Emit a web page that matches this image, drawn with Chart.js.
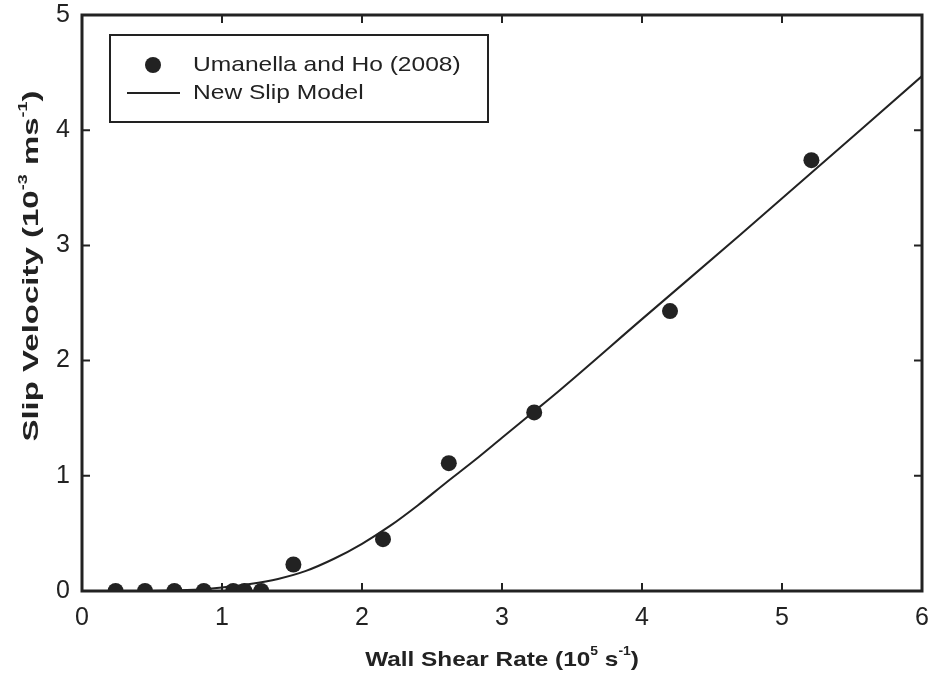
<!DOCTYPE html>
<html>
<head>
<meta charset="utf-8">
<script src="https://cdn.jsdelivr.net/npm/chart.js@4"></script>
<style>
  html, body { margin: 0; padding: 0; background: #fff; }
</style>
</head>
<body>
<canvas id="slip-chart" width="932" height="677"></canvas>
<script>
// Umanella and Ho (2008) measurements
const shearRate = [0.24, 0.45, 0.66, 0.87, 1.08, 1.16, 1.28, 1.51, 2.15, 2.62, 3.23, 4.20, 5.21];
const slipVel   = [0, 0, 0, 0, 0, 0, 0, 0.23, 0.45, 1.11, 1.55, 2.43, 3.74];

// new slip model curve
const modelRate = [0, 0.5, 0.8, 1.0, 1.2, 1.4, 1.6, 1.8, 2.0, 2.2, 2.4, 2.6, 2.8, 3.0, 3.2, 3.4, 4.0, 4.7, 6.0];
const modelVel  = [0, 0, 0.01, 0.03, 0.06, 0.105, 0.175, 0.28, 0.41, 0.565, 0.745, 0.94, 1.13, 1.33, 1.53, 1.73, 2.36, 3.09, 4.47];

const xTicks = [0, 1, 2, 3, 4, 5, 6];
const yTicks = [0, 1, 2, 3, 4, 5];

const seriesNames = ['Umanella and Ho (2008)', 'New Slip Model'];

// axis titles, split so the exponents can be drawn raised
const xTitle = [['Wall Shear Rate (10'], ['5', 1], [' s'], ['-1', 1], [')']];
const yTitle = [['Slip Velocity (10'], ['-3', 1], [' ms'], ['-1', 1], [')']];

const INK  = '#222';
const FONT = '"Liberation Sans", Arial, sans-serif';

// draws text pieces centred on the origin, exponents smaller and raised
function drawRich(ctx, parts, size, stretch) {
  const supSize = Math.round(size * 0.55);
  const fontOf = p => `bold ${p[1] ? supSize : size}px ${FONT}`;
  let w = 0;
  parts.forEach(p => { ctx.font = fontOf(p); w += ctx.measureText(p[0]).width; });
  ctx.scale(stretch, 1);
  ctx.textBaseline = 'middle';
  ctx.textAlign = 'left';
  let cx = -w / 2;
  parts.forEach(p => {
    ctx.font = fontOf(p);
    ctx.fillText(p[0], cx, p[1] ? -size * 0.38 : 0);
    cx += ctx.measureText(p[0]).width;
  });
}

const framePlugin = {
  id: 'frame',
  beforeDatasetsDraw(chart) {
    const { ctx, chartArea: a, scales: { x, y } } = chart;
    ctx.save();
    ctx.strokeStyle = INK;
    ctx.lineWidth = 3;
    ctx.strokeRect(a.left, a.top, a.right - a.left, a.bottom - a.top);
    ctx.lineWidth = 2;
    ctx.beginPath();
    xTicks.slice(1, -1).forEach(v => {
      const px = x.getPixelForValue(v);
      ctx.moveTo(px, a.bottom); ctx.lineTo(px, a.bottom - 8);
      ctx.moveTo(px, a.top);    ctx.lineTo(px, a.top + 8);
    });
    yTicks.slice(1, -1).forEach(v => {
      const py = y.getPixelForValue(v);
      ctx.moveTo(a.left, py);  ctx.lineTo(a.left + 8, py);
      ctx.moveTo(a.right, py); ctx.lineTo(a.right - 8, py);
    });
    ctx.stroke();
    ctx.restore();
  },
  afterDraw(chart) {
    const { ctx, chartArea: a } = chart;
    ctx.save();
    ctx.fillStyle = INK;
    ctx.translate((a.left + a.right) / 2, 660);
    drawRich(ctx, xTitle, 21, 1.16);
    ctx.restore();

    ctx.save();
    ctx.fillStyle = INK;
    ctx.translate(32, 266);
    ctx.rotate(-Math.PI / 2);
    drawRich(ctx, yTitle, 22, 1.5);
    ctx.restore();
  },
};

// boxed legend in the upper left of the plot
const legendPlugin = {
  id: 'boxLegend',
  afterDatasetsDraw(chart) {
    const { ctx, chartArea: a } = chart;
    const bx = a.left + 28, by = a.top + 20, bw = 378, bh = 87;
    ctx.save();
    ctx.fillStyle = '#fff';
    ctx.fillRect(bx, by, bw, bh);
    ctx.strokeStyle = INK;
    ctx.lineWidth = 2;
    ctx.strokeRect(bx, by, bw, bh);

    ctx.fillStyle = INK;
    ctx.beginPath();
    ctx.arc(bx + 43, by + 30, 8, 0, Math.PI * 2);
    ctx.fill();
    ctx.beginPath();
    ctx.moveTo(bx + 17, by + 58);
    ctx.lineTo(bx + 70, by + 58);
    ctx.stroke();

    ctx.font = `21px ${FONT}`;
    ctx.textBaseline = 'middle';
    [30, 58].forEach((dy, i) => {
      ctx.save();
      ctx.translate(bx + 83, by + dy);
      ctx.scale(1.17, 1);
      ctx.fillText(seriesNames[i], 0, 0);
      ctx.restore();
    });
    ctx.restore();
  },
};

new Chart(document.getElementById('slip-chart'), {
  type: 'scatter',
  data: {
    datasets: [
      {
        label: seriesNames[0],
        data: shearRate.map((v, i) => ({ x: v, y: slipVel[i] })),
        pointRadius: 8,
        pointBackgroundColor: INK,
        pointBorderWidth: 0,
        order: 0,
      },
      {
        label: seriesNames[1],
        type: 'line',
        data: modelRate.map((v, i) => ({ x: v, y: modelVel[i] })),
        borderColor: INK,
        borderWidth: 2,
        pointRadius: 0,
        cubicInterpolationMode: 'monotone',
        fill: false,
        order: 1,
      },
    ],
  },
  options: {
    responsive: false,
    animation: false,
    layout: { padding: { top: 15, right: 10, left: 0, bottom: 0 } },
    plugins: {
      legend: { display: false },
      tooltip: { enabled: false },
    },
    scales: {
      x: {
        type: 'linear',
        min: 0, max: 6,
        afterBuildTicks: s => { s.ticks = xTicks.map(v => ({ value: v })); },
        // fixed band height; end labels may hang past the plot edges
        afterFit: s => { s.height = 86; s.paddingLeft = 0; s.paddingRight = 0; },
        grid: { display: false },
        border: { display: false },
        ticks: { color: INK, padding: 4, font: { family: FONT, size: 25 } },
      },
      y: {
        type: 'linear',
        min: 0, max: 5,
        afterBuildTicks: s => { s.ticks = yTicks.map(v => ({ value: v })); },
        afterFit: s => { s.width = 82; s.paddingTop = 0; s.paddingBottom = 0; },
        grid: { display: false },
        border: { display: false },
        ticks: { color: INK, padding: 4, font: { family: FONT, size: 25 } },
      },
    },
  },
  plugins: [framePlugin, legendPlugin],
});
</script>
</body>
</html>
